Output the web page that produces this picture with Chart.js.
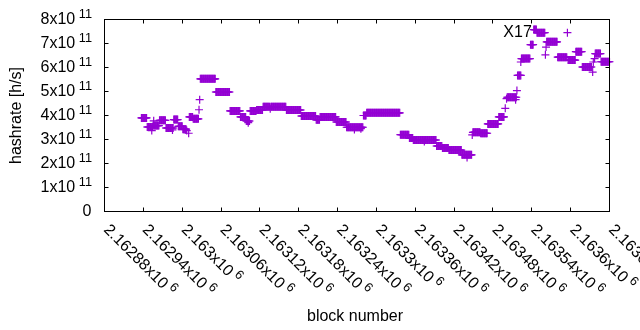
<!DOCTYPE html>
<html><head><meta charset="utf-8">
<script src="https://cdn.jsdelivr.net/npm/chart.js@4/dist/chart.umd.min.js"></script>
<style>html,body{margin:0;padding:0;background:#fff;}#wrap{width:640px;height:330px;position:relative;}</style>
</head><body><div id="wrap"><canvas id="c" width="640" height="330"></canvas></div>
<script>
// ---- data (block numbers are offsets from BLOCK_BASE, hashrate in units of 1e11 h/s) ----
const BLOCK_BASE = 2162880;
// runs of consecutive blocks sharing the same hashrate estimate
const runStart = [57,66,75,85,95,107,114,121,131,137,148,172,194,210,219,225,235,245,257,281,304,327,333,358,374,400,405,457,471,477,513,522,532,552,569,581,592,609,622,638,644,658,663,668,683,700,716,728,738,758,767];
const runEnd   = [65,74,84,94,106,113,120,126,136,145,171,193,209,218,224,234,244,255,280,303,326,332,357,373,399,404,456,470,476,512,521,531,551,567,580,591,608,617,636,643,657,662,667,680,699,714,727,737,752,766,780];
const runHashrate = [3.90,3.52,3.58,3.80,3.48,3.83,3.55,3.43,3.94,3.86,5.53,4.98,4.19,3.94,3.77,4.19,4.23,4.36,4.36,4.23,3.98,3.82,3.94,3.73,3.51,4.00,4.11,3.20,3.06,2.98,2.73,2.65,2.56,2.36,3.30,3.26,3.65,3.94,4.76,5.67,6.37,6.95,7.58,7.45,7.07,6.43,6.31,6.66,6.02,6.58,6.24];
// isolated points
const singleBlock = [73,76,105,127,130,146,147,222,256,386,396,494,560,568,619,621,635,637,643,681,682,715,754,755,757];
const singleHashrate = [3.37,3.78,3.40,3.37,3.26,4.24,4.66,3.70,4.28,3.42,3.45,2.92,2.25,3.19,4.30,4.70,4.66,5.04,6.23,6.53,6.85,7.45,5.81,6.23,6.37];
// axes
const xTicks = [2162880,2162940,2163000,2163060,2163120,2163180,2163240,2163300,2163360,2163420,2163480,2163540,2163600,2163660];
const xTickMantissa = ['2.16288','2.16294','2.163','2.16306','2.16312','2.16318','2.16324','2.1633','2.16336','2.16342','2.16348','2.16354','2.1636','2.16366'];
const xTickExp = '6';
const yTicks = [0,1e11,2e11,3e11,4e11,5e11,6e11,7e11,8e11];
const yTickMantissa = ['0','1','2','3','4','5','6','7','8'];
const yTickExp = '11';
const annotationText = 'X17';
const annotationBlock = 2163540;
const annotationHashrate = 7.5e11;

// ---- build points ----
const points = [];
for (let i = 0; i < runStart.length; i++) {
  for (let b = runStart[i]; b <= runEnd[i]; b++) points.push({x: BLOCK_BASE + b, y: runHashrate[i] * 1e11});
}
for (let i = 0; i < singleBlock.length; i++) points.push({x: BLOCK_BASE + singleBlock[i], y: singleHashrate[i] * 1e11});

const FONT = '"Liberation Sans", Arial, sans-serif';
const frame = {
  id: 'gnuplotFrame',
  afterDraw(chart) {
    const {ctx, chartArea: a, scales: {x, y}} = chart;
    const snap = v => Math.round(v - 0.5) + 0.5;
    ctx.save();
    ctx.strokeStyle = '#000'; ctx.lineWidth = 1;
    ctx.strokeRect(a.left, a.top, a.right - a.left, a.bottom - a.top);
    ctx.beginPath();
    xTicks.forEach(v => {
      const px = snap(x.getPixelForValue(v));
      ctx.moveTo(px, a.bottom); ctx.lineTo(px, a.bottom - 4);
      ctx.moveTo(px, a.top); ctx.lineTo(px, a.top + 4);
    });
    yTicks.forEach(v => {
      const py = snap(y.getPixelForValue(v));
      ctx.moveTo(a.left, py); ctx.lineTo(a.left + 4, py);
      ctx.moveTo(a.right, py); ctx.lineTo(a.right - 4, py);
    });
    ctx.stroke();
    ctx.fillStyle = '#000';
    const big = '16px ' + FONT, small = '12.8px ' + FONT;
    // y tick labels
    ctx.textBaseline = 'alphabetic';
    yTicks.forEach((v, i) => {
      const py = y.getPixelForValue(v);
      ctx.textAlign = 'left';
      if (yTickMantissa[i] === '0') {
        ctx.font = big; ctx.textAlign = 'right';
        ctx.fillText('0', 91.5, py + 4.5);
        return;
      }
      const main = yTickMantissa[i] + 'x10';
      ctx.font = big; const w1 = ctx.measureText(main).width;
      ctx.font = small; const w2 = ctx.measureText(yTickExp).width;
      const gap = 3.5;
      const x0 = 92 - (w1 + gap + w2);
      ctx.font = big; ctx.fillText(main, x0, py + 4.3);
      ctx.font = small; ctx.fillText(yTickExp, x0 + w1 + gap, py - 2);
    });
    // x tick labels (rotated)
    xTicks.forEach((v, i) => {
      const px = x.getPixelForValue(v);
      ctx.save();
      ctx.translate(px - 1.5, 230.5);
      ctx.rotate(Math.PI / 4);
      ctx.textAlign = 'left';
      const main = xTickMantissa[i] + 'x10';
      ctx.font = big; ctx.fillText(main, 0, 0);
      const w1 = ctx.measureText(main).width;
      ctx.font = small; ctx.fillText(xTickExp, w1 + 3.5, -6);
      ctx.restore();
    });
    // axis titles
    ctx.font = big;
    ctx.textAlign = 'center';
    ctx.fillText('block number', 355, 321);
    ctx.save();
    ctx.translate(21, 115.5);
    ctx.rotate(-Math.PI / 2);
    ctx.fillText('hashrate [h/s]', 0, 0);
    ctx.restore();
    // label
    ctx.textAlign = 'right';
    ctx.fillText(annotationText, x.getPixelForValue(annotationBlock), y.getPixelForValue(annotationHashrate) + 5.5);
    ctx.restore();
  }
};

new Chart(document.getElementById('c'), {
  type: 'scatter',
  data: {datasets: [{
    data: points,
    pointStyle: 'cross',
    pointRadius: 4,
    pointHoverRadius: 4,
    borderColor: '#9400d3',
    backgroundColor: '#9400d3',
    borderWidth: 1.2,
    showLine: false,
    clip: 5
  }]},
  options: {
    responsive: false,
    devicePixelRatio: 1,
    animation: false,
    events: [],
    layout: {padding: {left: 104.5, right: 30.5, top: 19.5, bottom: 118.5}},
    plugins: {legend: {display: false}, tooltip: {enabled: false}},
    scales: {
      x: {type: 'linear', display: false, min: 2162880, max: 2163660},
      y: {type: 'linear', display: false, min: 0, max: 8e11}
    }
  },
  plugins: [frame]
});
</script>
</body></html>
